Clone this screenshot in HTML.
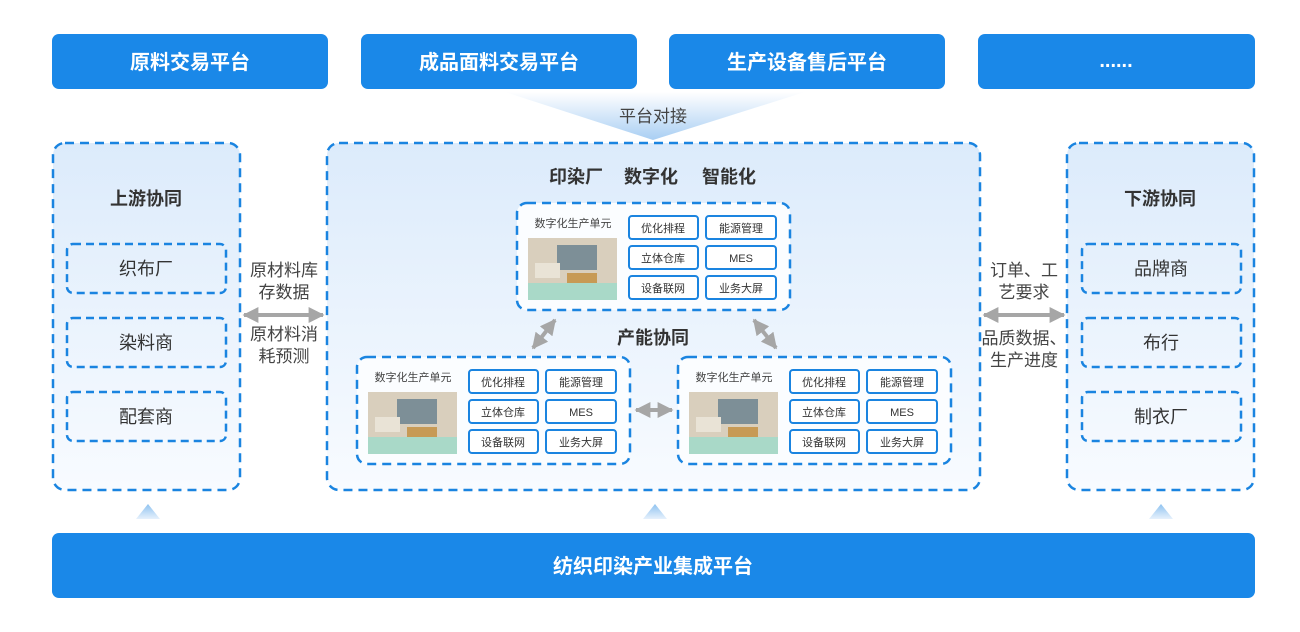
<!DOCTYPE html>
<html><head><meta charset="utf-8"><style>
body{margin:0;background:#fff;}
svg{display:block;font-family:"Liberation Sans","Noto Sans CJK SC",sans-serif;}
</style></head><body>
<svg width="1300" height="632" viewBox="0 0 1300 632" xmlns="http://www.w3.org/2000/svg">
<defs>
<linearGradient id="pg" x1="0" y1="0" x2="0" y2="1"><stop offset="0" stop-color="#dcebfb"/><stop offset="1" stop-color="#f8fbff"/></linearGradient>
<linearGradient id="fg" x1="0" y1="0" x2="0" y2="1"><stop offset="0" stop-color="#ffffff"/><stop offset="1" stop-color="#a9cff3"/></linearGradient>
<linearGradient id="tg" x1="0" y1="0" x2="0" y2="1"><stop offset="0" stop-color="#8ec2f0"/><stop offset="1" stop-color="#e6f1fc"/></linearGradient>
<marker id="ah" viewBox="0 0 10 10" refX="9" refY="5" markerWidth="4" markerHeight="4" orient="auto-start-reverse"><path d="M0,0L10,5L0,10z" fill="#a6a6a6"/></marker>
<g id="unit">
  <rect x="0" y="0" width="273" height="107" rx="10" fill="#fbfdff" stroke="#1a84e0" stroke-width="2.5" stroke-dasharray="9,6"/>
  <text x="56" y="24" font-size="11" fill="#444" text-anchor="middle">数字化生产单元</text>
  <rect x="11" y="35" width="89" height="62" fill="#d9cfbd"/>
  <rect x="11" y="80" width="89" height="17" fill="#a9d9c8"/>
  <rect x="40" y="42" width="40" height="25" fill="#7d8f97"/>
  <rect x="18" y="60" width="25" height="15" fill="#e9e3d6"/>
  <rect x="50" y="70" width="30" height="10" fill="#c79a55"/>
  <g fill="#fff" stroke="#1a84e0" stroke-width="2">
    <rect x="112" y="13" width="69" height="23" rx="3"/><rect x="189" y="13" width="70" height="23" rx="3"/>
    <rect x="112" y="43" width="69" height="23" rx="3"/><rect x="189" y="43" width="70" height="23" rx="3"/>
    <rect x="112" y="73" width="69" height="23" rx="3"/><rect x="189" y="73" width="70" height="23" rx="3"/>
  </g>
  <g font-size="11" fill="#333" text-anchor="middle">
    <text x="146" y="29">优化排程</text><text x="224" y="29">能源管理</text>
    <text x="146" y="59">立体仓库</text><text x="224" y="59">MES</text>
    <text x="146" y="89">设备联网</text><text x="224" y="89">业务大屏</text>
  </g>
</g>
</defs>
<rect width="1300" height="632" fill="#fff"/>
<g fill="#1a88e8">
<rect x="52" y="34" width="276" height="55" rx="7"/>
<rect x="361" y="34" width="276" height="55" rx="7"/>
<rect x="669" y="34" width="276" height="55" rx="7"/>
<rect x="978" y="34" width="277" height="55" rx="7"/>
</g>
<g fill="#fff" font-size="20" font-weight="bold" text-anchor="middle">
<text x="190" y="69">原料交易平台</text>
<text x="499" y="69">成品面料交易平台</text>
<text x="807" y="69">生产设备售后平台</text>
<text x="1116" y="67">......</text>
</g>
<path d="M505,92 L805,92 L653,140 Z" fill="url(#fg)"/>
<text x="653" y="122" font-size="17" fill="#444" text-anchor="middle">平台对接</text>
<g stroke="#1a84e0" stroke-width="2.5" stroke-dasharray="9,6" fill="url(#pg)">
<rect x="53" y="143" width="187" height="347" rx="12"/>
<rect x="327" y="143" width="653" height="347" rx="12"/>
<rect x="1067" y="143" width="187" height="347" rx="12"/>
</g>
<g font-size="18" font-weight="bold" fill="#333" text-anchor="middle">
<text x="146" y="205">上游协同</text>
<text x="1160" y="205">下游协同</text>
<text x="576" y="183">印染厂</text>
<text x="651" y="183">数字化</text>
<text x="729" y="183">智能化</text>
</g>
<g stroke="#1a84e0" stroke-width="2.5" stroke-dasharray="8,5" fill="none">
<rect x="67" y="244" width="159" height="49" rx="6"/>
<rect x="67" y="318" width="159" height="49" rx="6"/>
<rect x="67" y="392" width="159" height="49" rx="6"/>
<rect x="1082" y="244" width="159" height="49" rx="6"/>
<rect x="1082" y="318" width="159" height="49" rx="6"/>
<rect x="1082" y="392" width="159" height="49" rx="6"/>
</g>
<g font-size="18" fill="#333" text-anchor="middle">
<text x="146" y="275">织布厂</text><text x="146" y="349">染料商</text><text x="146" y="423">配套商</text>
<text x="1161" y="275">品牌商</text><text x="1161" y="349">布行</text><text x="1161" y="423">制衣厂</text>
</g>
<g stroke="#a6a6a6" stroke-width="4" marker-start="url(#ah)" marker-end="url(#ah)">
<line x1="244" y1="315" x2="323" y2="315"/>
<line x1="984" y1="315" x2="1064" y2="315"/>
<line x1="636" y1="410" x2="672" y2="410"/>
<line x1="555" y1="320" x2="533" y2="348"/>
<line x1="754" y1="320" x2="776" y2="348"/>
</g>
<g font-size="17" fill="#444" text-anchor="middle">
<text x="284" y="276">原材料库</text><text x="284" y="298">存数据</text>
<text x="284" y="340">原材料消</text><text x="284" y="362">耗预测</text>
<text x="1024" y="276">订单、工</text><text x="1024" y="298">艺要求</text>
<text x="1024" y="344">品质数据、</text><text x="1024" y="366">生产进度</text>
</g>
<text x="653" y="344" font-size="18" font-weight="bold" fill="#333" text-anchor="middle">产能协同</text>
<use href="#unit" x="517" y="203"/>
<use href="#unit" x="357" y="357"/>
<use href="#unit" x="678" y="357"/>
<g fill="url(#tg)">
<path d="M136,519 L148,504 L160,519 Z"/>
<path d="M643,519 L655,504 L667,519 Z"/>
<path d="M1149,519 L1161,504 L1173,519 Z"/>
</g>
<rect x="52" y="533" width="1203" height="65" rx="7" fill="#1a88e8"/>
<text x="653" y="573" font-size="20" font-weight="bold" fill="#fff" text-anchor="middle">纺织印染产业集成平台</text>
</svg>
</body></html>
